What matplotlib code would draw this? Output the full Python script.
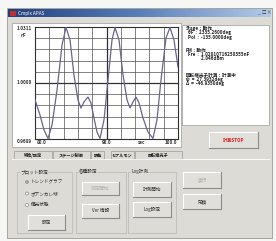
import numpy as np
import matplotlib.pyplot as plt
from matplotlib.patches import Rectangle, Circle
from matplotlib.colors import LinearSegmentedColormap
from matplotlib.transforms import blended_transform_factory

plt.rcParams['font.family'] = ['Noto Sans CJK JP', 'DejaVu Sans']

W, H = 276, 241

# トレンドグラフのデータ (sec, nF)
time_sec = [80.00, 80.70, 81.26, 81.82, 82.38, 83.08, 83.78, 84.34, 84.90, 85.45,
            86.01, 86.43, 86.85, 87.41, 87.83, 88.25, 88.67, 89.09, 89.65, 90.21,
            90.77, 91.19, 91.75, 92.31, 92.87, 93.29, 93.71, 94.13, 94.55, 95.10,
            95.80, 96.50, 97.06, 97.62, 98.32, 98.88, 99.44, 100.00]
cap_nf = [0.9906, 0.9822, 0.9739, 0.9692, 0.9767, 0.9961, 1.0211, 1.0308, 1.0239, 1.0044,
          0.9906, 0.9861, 0.9895, 0.9922, 0.9889, 0.9806, 0.9728, 0.9692, 0.9795, 1.0017,
          1.0239, 1.0308, 1.0239, 1.0044, 0.9906, 0.9861, 0.9895, 0.9922, 0.9889, 0.9806,
          0.9728, 0.9692, 0.9795, 1.0017, 1.0250, 1.0308, 1.0239, 1.0089]

y_ticks = [0.9689, 1.0000, 1.0311]
y_tick_labels = ['0.9689', '1.0000', '1.0311']
x_ticks = [80.0, 90.0, 100.0]
x_tick_labels = ['80.0', '90.0', '100.0']
y_unit = 'nF'
x_unit = 'sec'

window_title = 'Cmplx APAS'
status_lines = [
    'Stage：動作',
    '  θF  :  2335.2600deg',
    '  Pol  :  -135.0000deg',
    'PM：動作',
    '  Fre  :  1.02010716250355nF',
    '               2.046dBm',
    '回転検光子計測：計測中',
    'ψ  =  27.3932deg',
    'Δ  =  -46.9350deg',
]
status_y = [28, 32.5, 37, 50, 54.5, 59, 75, 79, 83]
tab_names = ['特性/設定', 'ステージ制御', '調整', 'セナルモン', '回転検光子']
plot_modes = ['トレンドグラフ', 'ポアンカレ球', '偏光状態']

FACE = '#dcdbd6'
FS = 3.3

fig = plt.figure(figsize=(W / 100, H / 100), dpi=100)
fig.patch.set_facecolor('#f6f6f4')
bg = fig.add_axes([0, 0, 1, 1])
bg.set_xlim(0, W)
bg.set_ylim(H, 0)
bg.axis('off')


def rect(x0, y0, x1, y1, fc, ec='none', lw=0.5, z=1):
    bg.add_patch(Rectangle((x0, y0), x1 - x0, y1 - y0, facecolor=fc,
                           edgecolor=ec, linewidth=lw, zorder=z))


def button(x0, y0, x1, y1, label, color='#303030', weight='normal'):
    rect(x0, y0, x1, y1, '#e0dfda', z=2)
    bg.plot([x0, x1], [y0, y0], color='white', lw=0.8, zorder=3)
    bg.plot([x0, x0], [y0, y1], color='white', lw=0.8, zorder=3)
    bg.plot([x0, x1], [y1, y1], color='#8c8c88', lw=0.8, zorder=3)
    bg.plot([x1, x1], [y0, y1], color='#8c8c88', lw=0.8, zorder=3)
    bg.text((x0 + x1) / 2, (y0 + y1) / 2, label, ha='center', va='center',
            fontsize=FS, color=color, fontweight=weight, zorder=4)


def group(x0, y0, x1, y1, title):
    rect(x0, y0, x1, y1, 'none', ec='#b8b7b2', lw=0.5, z=2)
    bg.text(x0 + 3, y0, title, ha='left', va='center', fontsize=FS,
            color='#303030', zorder=4,
            bbox=dict(boxstyle='square,pad=0.1', fc=FACE, ec='none'))


# window
rect(7, 8, 272, 238, FACE, ec='#9a9a96', lw=0.6)
grad = np.linspace(0, 1, 256).reshape(1, -1)
cmap = LinearSegmentedColormap.from_list('title', ['#22407c', '#5a7fb8', '#b4cbe8'])
bg.imshow(grad, cmap=cmap, extent=[8, 271, 17, 9], aspect='auto', zorder=2)
rect(10, 10.5, 16, 15.5, '#c03030', z=3)
bg.text(18, 13, window_title, ha='left', va='center', fontsize=3.4,
        color='white', zorder=4)
for i, s in enumerate(['_', '□', '×']):
    bg.text(259 + i * 4.5, 13, s, ha='center', va='center', fontsize=3.2,
            color='#303030', zorder=4)

# graph panel and status panel
rect(12, 23, 181, 147, 'white', ec='#a8a8a4', lw=0.6)
rect(182, 25, 269, 125, 'white', ec='#a8a8a4', lw=0.6)
for line, y in zip(status_lines, status_y):
    bg.text(186, y, line, ha='left', va='center', fontsize=FS,
            color='#202020', fontweight='bold', zorder=4)

# stop button
button(209, 132, 258, 148, '計測STOP', color='#e02020', weight='bold')

# tabs
tab_x = [(14, 52), (53, 90), (91, 104), (111, 134), (135, 182)]
for (x0, x1), name in zip(tab_x, tab_names):
    rect(x0, 151, x1, 159, FACE, ec='#9c9c98', lw=0.5, z=2)
    bg.text((x0 + x1) / 2, 155, name, ha='center', va='center',
            fontsize=3.0, color='#202020', fontweight='bold', zorder=4)
bg.plot([12, 269], [159, 159], color='white', lw=0.6, zorder=3)

# tab page
group(17, 172, 72, 233, 'プロット設定')
for i, mode in enumerate(plot_modes):
    y = 182 + i * 11.5
    bg.add_patch(Circle((27, y), 1.5, fc='white', ec='#707070', lw=0.4, zorder=3))
    if i == 0:
        bg.add_patch(Circle((27, y), 0.7, fc='#202020', ec='none', zorder=4))
    bg.text(31, y, mode, ha='left', va='center', fontsize=FS,
            color='#303030', zorder=4)
button(28, 215, 65, 230, '設定')

group(76, 172, 126, 233, '各種設定')
button(82, 182, 119, 195, '測定開始', color='#b0b0ac')
button(82, 204, 119, 218, 'Ver 情報')

group(128, 172, 176, 233, 'Log計測')
button(133, 182, 171, 197, '計測開始')
button(133, 202, 171, 217, 'Log設定')

button(183, 172, 221, 188, '実行', color='#b0b0ac')
button(183, 194, 221, 209, '閉鎖')

# trend graph
ax = fig.add_axes([35 / W, 1 - 139 / H, 143 / W, 112 / H])
ax.set_xlim(80, 100)
ax.set_ylim(0.9689, 1.0311)
ax.set_xticks(np.linspace(80, 100, 11))
ax.set_yticks(np.linspace(0.9689, 1.0311, 11))
ax.tick_params(length=0, labelbottom=False, labelleft=False)
ax.grid(True, color='#505050', lw=0.5)
ax.axvline(90, color='#303030', lw=0.9)
ax.axhline(1.0, color='#303030', lw=0.9)
for sp in ax.spines.values():
    sp.set_color('#303030')
    sp.set_linewidth(0.8)
ax.plot(time_sec, cap_nf, color='#6c6390', lw=0.9, zorder=5)

ty = blended_transform_factory(ax.transAxes, ax.transData)
y_offsets = [-0.0012, 0.0, -0.0008]
for v, lab, off in zip(y_ticks, y_tick_labels, y_offsets):
    ax.text(-0.02, v + off, lab, transform=ty, ha='right', va='center',
            fontsize=FS, color='#303030', fontweight='bold')
ax.text(-0.08, 0.925, y_unit, transform=ax.transAxes, ha='center', va='center',
        fontsize=FS, color='#303030', fontweight='bold')

tx = blended_transform_factory(ax.transData, ax.transAxes)
ax.text(x_ticks[0] + 0.2, -0.035, x_tick_labels[0], transform=tx, ha='left',
        va='center', fontsize=FS, color='#303030', fontweight='bold')
ax.text(x_ticks[1], -0.035, x_tick_labels[1], transform=tx, ha='center',
        va='center', fontsize=FS, color='#303030', fontweight='bold')
ax.text(x_ticks[2] - 0.1, -0.035, x_tick_labels[2], transform=tx, ha='right',
        va='center', fontsize=FS, color='#303030', fontweight='bold')
ax.text(94.9, -0.035, x_unit, transform=tx, ha='center', va='center',
        fontsize=FS, color='#303030', fontweight='bold')

fig.savefig('out.png', dpi=100, facecolor=fig.get_facecolor())
